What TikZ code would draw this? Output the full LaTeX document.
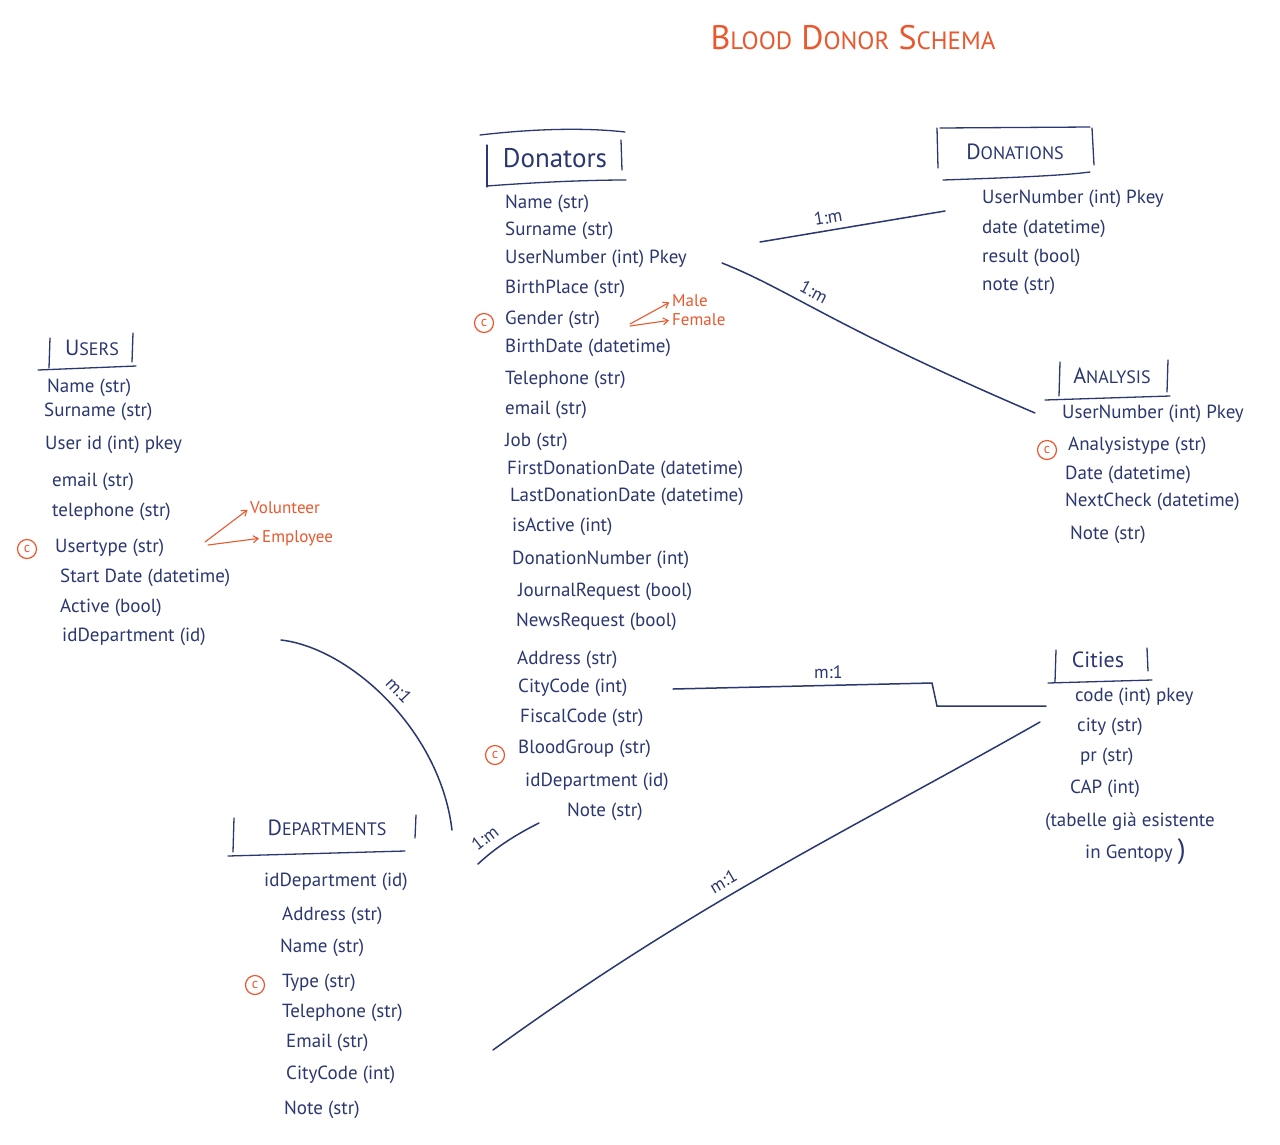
\documentclass[tikz,border=0pt]{standalone}
\usepackage{fontspec}
\setmainfont{PT Sans}
\usetikzlibrary{arrows.meta}
\definecolor{ink}{HTML}{2B3770}
\definecolor{hl}{HTML}{E9582E}
\begin{document}
\begin{tikzpicture}[x=1pt,y=-1pt,
 fld/.style={anchor=west,inner sep=0pt,text=ink,font=\fontsize{19}{21}\selectfont},
 hdr/.style={inner sep=0pt,text=ink,font=\fontsize{22}{24}\selectfont},
 rule/.style={draw=ink,line width=1.3pt,line cap=round},
 conn/.style={draw=ink,line width=1.5pt,line cap=round},
 card/.style={text=ink,font=\fontsize{18}{20}\selectfont,inner sep=1pt},
 cmark/.style={circle,draw=hl,text=hl,line width=1.2pt,inner sep=0pt,minimum size=19pt,font=\fontsize{14}{14}\selectfont},
 opt/.style={anchor=west,inner sep=0pt,text=hl,font=\fontsize{17}{19}\selectfont},
 enum/.style={draw=hl,line width=1.1pt,line cap=round,shorten >=3pt,-{Straight Barb[length=5pt,width=7pt]}}
]
\useasboundingbox (0,0) rectangle (1280,1144);
\fill[white] (0,0) rectangle (1280,1144);

% ---------- title ----------
\node[text=hl,inner sep=0pt,font=\fontsize{34}{36}\selectfont] (title) at (853,38)
 {B{\fontsize{25}{27}\selectfont LOOD} D{\fontsize{25}{27}\selectfont ONOR} S{\fontsize{25}{27}\selectfont CHEMA}};

% ---------- Donators ----------
\node[hdr,font=\fontsize{27}{29}\selectfont] (donH) at (555,158) {Donators};
\draw[rule] (480,135) .. controls (540,128) and (590,128) .. (625,132);
\draw[rule] (487,145) -- (487,187);
\draw[rule] (487,186) .. controls (540,182) and (590,180) .. (626,180);
\draw[rule] (621,140) -- (622,170);

\node[fld] (d1) at (505,204) {Name (str)};
\node[fld] (d2) at (505,231) {Surname (str)};
\node[fld] (d3) at (505,259) {UserNumber (int) Pkey};
\node[fld] (d4) at (505,289) {BirthPlace (str)};
\node[fld] (d5) at (505,320) {Gender (str)};
\node[cmark] (cm1) at (484,323) {c};
\node[opt] (male) at (672,301) {Male};
\node[opt] (female) at (672,320) {Female};
\draw[enum] (630,324) -- (male.west);
\draw[enum] (630,326) -- (female.west);
\node[fld] (d6) at (505,348) {BirthDate (datetime)};
\node[fld] (d7) at (505,380) {Telephone (str)};
\node[fld] (d8) at (505,410) {email (str)};
\node[fld] (d9) at (505,442) {Job (str)};
\node[fld] (d10) at (507,470) {FirstDonationDate (datetime)};
\node[fld] (d11) at (510,497) {LastDonationDate (datetime)};
\node[fld] (d12) at (512,527) {isActive (int)};
\node[fld] (d13) at (512,560) {DonationNumber (int)};
\node[fld] (d14) at (518,592) {JournalRequest (bool)};
\node[fld] (d15) at (516,622) {NewsRequest (bool)};
\node[fld] (d16) at (517,660) {Address (str)};
\node[fld] (d17) at (518,688) {CityCode (int)};
\node[fld] (d18) at (520,718) {FiscalCode (str)};
\node[fld] (d19) at (518,749) {BloodGroup (str)};
\node[cmark] (cm2) at (495,755) {c};
\node[fld] (d20) at (525,782) {idDepartment (id)};
\node[fld] (d21) at (567,812) {Note (str)};

% ---------- Donations ----------
\node[hdr] (dnH) at (1015,152) {D{\fontsize{18}{20}\selectfont ONATIONS}};
\draw[rule] (940,128) -- (1090,127);
\draw[rule] (937,128) -- (938,168);
\draw[rule] (1092,128) -- (1094,165);
\draw[rule] (943,180) .. controls (1000,178) and (1060,176) .. (1090,172);
\node[fld] (n1) at (982,199) {UserNumber (int) Pkey};
\node[fld] (n2) at (982,229) {date (datetime)};
\node[fld] (n3) at (982,258) {result (bool)};
\node[fld] (n4) at (982,286) {note (str)};

% ---------- Analysis ----------
\node[hdr] (anH) at (1112,376) {A{\fontsize{18}{20}\selectfont NALYSIS}};
\draw[rule] (1060,362) -- (1059,396);
\draw[rule] (1168,360) -- (1167,392);
\draw[rule] (1045,400) -- (1170,396);
\node[fld] (a1) at (1062,414) {UserNumber (int) Pkey};
\node[fld] (a2) at (1068,446) {Analysistype (str)};
\node[cmark] (cm3) at (1047,450) {c};
\node[fld] (a3) at (1065,475) {Date (datetime)};
\node[fld] (a4) at (1065,502) {NextCheck (datetime)};
\node[fld] (a5) at (1070,535) {Note (str)};

% ---------- Cities ----------
\node[hdr] (ciH) at (1098,660) {Cities};
\draw[rule] (1056,650) -- (1055,682);
\draw[rule] (1147,648) -- (1148,671);
\draw[rule] (1048,683) -- (1152,680);
\node[fld] (t1) at (1075,697) {code (int) pkey};
\node[fld] (t2) at (1077,727) {city (str)};
\node[fld] (t3) at (1080,757) {pr (str)};
\node[fld] (t4) at (1070,789) {CAP (int)};
\node[fld] (t5) at (1045,822) {(tabelle già esistente};
\node[fld] (t6) at (1085,852) {in Gentopy \fontsize{28}{30}\selectfont)};

% ---------- Users ----------
\node[hdr] (usH) at (92,348) {U{\fontsize{18}{20}\selectfont SERS}};
\draw[rule] (50,338) -- (49,368);
\draw[rule] (133,333) -- (132,362);
\draw[rule] (38,370) -- (136,366);
\node[fld] (u1) at (47,388) {Name (str)};
\node[fld] (u2) at (44,412) {Surname (str)};
\node[fld] (u3) at (45,445) {User id (int) pkey};
\node[fld] (u4) at (52,482) {email (str)};
\node[fld] (u5) at (52,512) {telephone (str)};
\node[fld] (u6) at (55,548) {Usertype (str)};
\node[cmark] (cm4) at (27,549) {c};
\node[opt] (vol) at (250,508) {Volunteer};
\node[opt] (emp) at (262,538) {Employee};
\draw[enum] (205,542) -- (vol.west);
\draw[enum] (208,545) -- (emp.west);
\node[fld] (u7) at (60,578) {Start Date (datetime)};
\node[fld] (u8) at (60,608) {Active (bool)};
\node[fld] (u9) at (62,637) {idDepartment (id)};

% ---------- Departments ----------
\node[hdr] (deH) at (327,828) {D{\fontsize{18}{20}\selectfont EPARTMENTS}};
\draw[rule] (234,818) -- (233,852);
\draw[rule] (416,815) -- (415,838);
\draw[rule] (228,856) -- (405,851);
\node[fld] (p1) at (264,882) {idDepartment (id)};
\node[fld] (p2) at (282,916) {Address (str)};
\node[fld] (p3) at (280,948) {Name (str)};
\node[fld] (p4) at (282,983) {Type (str)};
\node[cmark] (cm5) at (255,985) {c};
\node[fld] (p5) at (282,1013) {Telephone (str)};
\node[fld] (p6) at (286,1043) {Email (str)};
\node[fld] (p7) at (286,1075) {CityCode (int)};
\node[fld] (p8) at (284,1110) {Note (str)};

% ---------- connector end points ----------
\coordinate (e1a) at (760,242);  \coordinate (e1b) at (945,211);
\coordinate (e2a) at (722,263);  \coordinate (e2b) at (1035,413);
\coordinate (e3a) at (673,689);  \coordinate (e3k) at (932,683);
\coordinate (e3l) at (937,706);  \coordinate (e3b) at (1046,706);
\coordinate (e4a) at (478,864);  \coordinate (e4b) at (539,823);
\coordinate (e5a) at (281,640);  \coordinate (e5b) at (452,830);
\coordinate (e6a) at (493,1050); \coordinate (e6b) at (1040,722);

% ---------- connectors ----------
\draw[conn] (e1a) -- node[card,above=5pt,sloped,pos=0.38] {1:m} (e1b);
\draw[conn] (e2a) .. controls (790,290) and (830,325) .. node[card,above=6pt,sloped,pos=0.42] {1:m} (e2b);
\draw[conn] (e3a) -- node[card,above=5pt,pos=0.6] {m:1} (e3k) -- (e3l) -- (e3b);
\draw[conn] (e4a) .. controls (495,848) and (515,835) .. node[card,above=7pt,sloped,pos=0.3] {1:m} (e4b);
\draw[conn] (e5a) .. controls (350,648) and (440,730) .. node[card,above=7pt,sloped,pos=0.5] {m:1} (e5b);
\draw[conn] (e6a) .. controls (700,900) and (850,830) .. node[card,above=7pt,sloped,pos=0.42] {m:1} (e6b);
\end{tikzpicture}
\end{document}
